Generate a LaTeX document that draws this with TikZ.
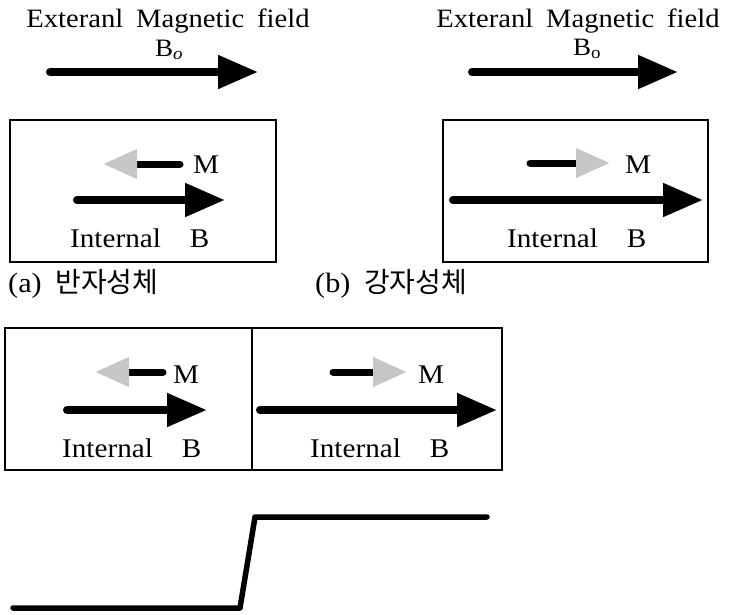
\documentclass[tikz,border=0pt]{standalone}
\usepackage{fontspec}
\setmainfont[FakeStretch=1.08, WordSpace=1.8]{Liberation Serif}
\newfontfamily\cjk{Noto Sans CJK KR}
\usetikzlibrary{arrows.meta, positioning}
\tikzset{
  titletext/.style={font=\fontsize{26.5}{30}\selectfont, inner sep=0pt},
  lbl/.style={font=\fontsize{27}{30}\selectfont, inner sep=0pt},
  bolbl/.style={font=\fontsize{25}{28}\selectfont, inner sep=0pt},
  captext/.style={font=\fontsize{28}{32}\selectfont, inner sep=0pt},
  samplebox/.style={draw, line width=1.6pt, inner sep=0pt,
    minimum height=142pt},
  fieldarrow/.style={line width=8pt, line cap=round,
    -{Triangle[length=40pt, width=32pt]}},
  magarrow/.style={line width=7pt, line cap=round,
    -{Triangle[length=34pt, width=28pt, color=gray!45]}},
  stepline/.style={line width=5.5pt, line cap=round, line join=round},
}

\begin{document}
\begin{tikzpicture}[x=1pt, y=-1pt]
  \useasboundingbox (0,0) rectangle (736,614);

  % ── External field, left ──
  \node[titletext, anchor=base] (ttla) at (168,27) {Exteranl Magnetic field};
  \node[bolbl, anchor=base west] (Boa) at (155,56) {B\textsubscript{\itshape o}};
  \coordinate (Ea1) at (50,72);
  \coordinate (Ea2) at (258,72);
  \draw[fieldarrow] (Ea1) -- (Ea2);

  % ── External field, right ──
  \node[titletext, anchor=base] (ttlb) at (578,27) {Exteranl Magnetic field};
  \node[bolbl, anchor=base west] (Bob) at (573,55) {B\textsubscript{o}};
  \coordinate (Eb1) at (472,72);
  \coordinate (Eb2) at (678,72);
  \draw[fieldarrow] (Eb1) -- (Eb2);

  % ── Box (a): diamagnet ──
  \node[samplebox, minimum width=266pt] (boxa) at (143,191) {};
  \coordinate (Ma1) at (180,164);
  \coordinate (Ma2) at (103,164);
  \draw[magarrow] (Ma1) -- (Ma2);
  \node[lbl, anchor=base west] (Mla) at (193,173) {M};
  \coordinate (Ia1) at (77,200);
  \coordinate (Ia2) at (225,200);
  \draw[fieldarrow] (Ia1) -- (Ia2);
  \node[lbl, anchor=base west] (Ila) at (70,247) {Internal\hspace{29pt}B};

  % ── Box (b): ferromagnet ──
  \node[samplebox, minimum width=265pt] (boxb) at (575.5,191) {};
  \coordinate (Mb1) at (530,163);
  \coordinate (Mb2) at (610,163);
  \draw[magarrow] (Mb1) -- (Mb2);
  \node[lbl, anchor=base west] (Mlb) at (625,173) {M};
  \coordinate (Ib1) at (453,200);
  \coordinate (Ib2) at (703,200);
  \draw[fieldarrow] (Ib1) -- (Ib2);
  \node[lbl, anchor=base west] (Ilb) at (507,247) {Internal\hspace{29pt}B};

  % ── Captions ──
  \node[captext, anchor=west] (capa) at (8,284) {(a) {\cjk 반자성체}};
  \node[captext, anchor=west] (capb) at (315,284) {(b) {\cjk 강자성체}};

  % ── Joined boxes (c), (d) ──
  \node[samplebox, minimum width=247pt] (boxc) at (128.5,399) {};
  \node[samplebox, minimum width=250pt] (boxd) at (377,399) {};

  \coordinate (Mc1) at (163,372);
  \coordinate (Mc2) at (95,372);
  \draw[magarrow] (Mc1) -- (Mc2);
  \node[lbl, anchor=base west] (Mlc) at (173,383) {M};
  \coordinate (Ic1) at (67,410);
  \coordinate (Ic2) at (207,410);
  \draw[fieldarrow] (Ic1) -- (Ic2);
  \node[lbl, anchor=base west] (Ilc) at (62,457) {Internal\hspace{29pt}B};

  \coordinate (Md1) at (333,372);
  \coordinate (Md2) at (407,372);
  \draw[magarrow] (Md1) -- (Md2);
  \node[lbl, anchor=base west] (Mld) at (418,383) {M};
  \coordinate (Id1) at (260,410);
  \coordinate (Id2) at (497,410);
  \draw[fieldarrow] (Id1) -- (Id2);
  \node[lbl, anchor=base west] (Ild) at (310,457) {Internal\hspace{29pt}B};

  % ── Step profile ──
  \coordinate (S1) at (13,608);
  \coordinate (S2) at (240,608);
  \coordinate (S3) at (255,517);
  \coordinate (S4) at (487,517);
  \draw[stepline] (S1) -- (S2) -- (S3) -- (S4);

\end{tikzpicture}
\end{document}
